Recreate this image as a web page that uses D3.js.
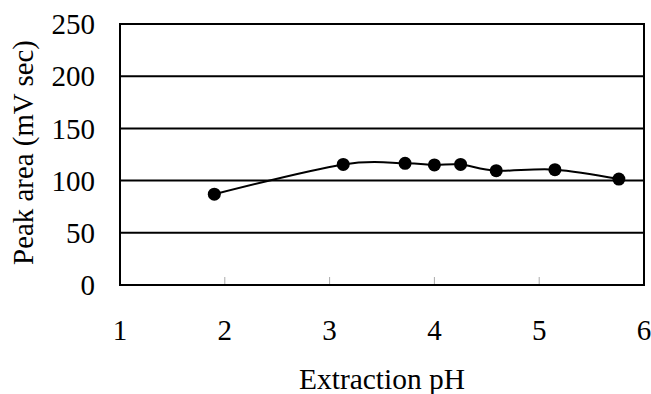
<!DOCTYPE html>
<html><head><meta charset="utf-8">
<script src="https://cdn.jsdelivr.net/npm/d3@7"></script>
<style>html,body{margin:0;padding:0;background:#fff;}svg{display:block;}</style>
</head><body>
<svg id="c" width="651" height="394"></svg>
<script>
const phValues = [1.9, 3.13, 3.72, 4.0, 4.25, 4.59, 5.15, 5.76];
const peakArea = [87, 115.5, 116.5, 115, 115.5, 109.5, 110.5, 101.5];
const xTicks = [1, 2, 3, 4, 5, 6];
const yTicks = [0, 50, 100, 150, 200, 250];
const xTitle = "Extraction pH";
const yTitle = "Peak area (mV sec)";

const svg = d3.select("#c");
const L = 120, R = 644, T = 24, B = 285;
const x = d3.scaleLinear().domain([1, 6]).range([L, R]);
const y = d3.scaleLinear().domain([0, 250]).range([B, T]);
const font = "'Liberation Serif','Times New Roman',serif";
const FS = 29;

// gridlines
svg.append("g").selectAll("line").data(yTicks.filter(d => d > 0 && d < 250)).join("line")
  .attr("x1", L).attr("x2", R).attr("y1", d => y(d)).attr("y2", d => y(d))
  .attr("stroke", "#000").attr("stroke-width", 2);

// x inner ticks
svg.append("g").selectAll("line").data(xTicks.filter(d => d > 1 && d < 6)).join("line")
  .attr("x1", d => x(d)).attr("x2", d => x(d)).attr("y1", B).attr("y2", B - 8)
  .attr("stroke", "#aaa").attr("stroke-width", 1);

// plot box
svg.append("rect").attr("x", L).attr("y", T).attr("width", R - L).attr("height", B - T)
  .attr("fill", "none").attr("stroke", "#000").attr("stroke-width", 2);

// y tick labels
svg.append("g").selectAll("text").data(yTicks).join("text")
  .attr("x", 95).attr("y", d => y(d)).attr("dy", "0.35em")
  .attr("text-anchor", "end").attr("font-family", font).attr("font-size", FS)
  .text(d => d);

// x tick labels
svg.append("g").selectAll("text").data(xTicks).join("text")
  .attr("x", d => x(d)).attr("y", 340)
  .attr("text-anchor", "middle").attr("font-family", font).attr("font-size", FS)
  .text(d => d);

// titles (font sized to the reference's text extents)
function fit(sel, target) {
  const w = sel.node().getComputedTextLength();
  sel.attr("font-size", FS * target / w);
}
const xt = svg.append("text").attr("x", 382).attr("y", 389).attr("text-anchor", "middle")
  .attr("font-family", font).attr("font-size", FS).text(xTitle);
fit(xt, 166);
const yt = svg.append("text").attr("transform", `translate(33,152.5) rotate(-90)`)
  .attr("text-anchor", "middle").attr("font-family", font).attr("font-size", FS).text(yTitle);
fit(yt, 225);

const pts = phValues.map((p, i) => [p, peakArea[i]]);
const line = d3.line().x(d => x(d[0])).y(d => y(d[1])).curve(d3.curveCardinal.tension(0));
svg.append("path").datum(pts).attr("d", line).attr("fill", "none")
  .attr("stroke", "#000").attr("stroke-width", 2);

svg.append("g").selectAll("circle").data(pts).join("circle")
  .attr("cx", d => x(d[0])).attr("cy", d => y(d[1])).attr("r", 6.5).attr("fill", "#000");
</script>
</body></html>
